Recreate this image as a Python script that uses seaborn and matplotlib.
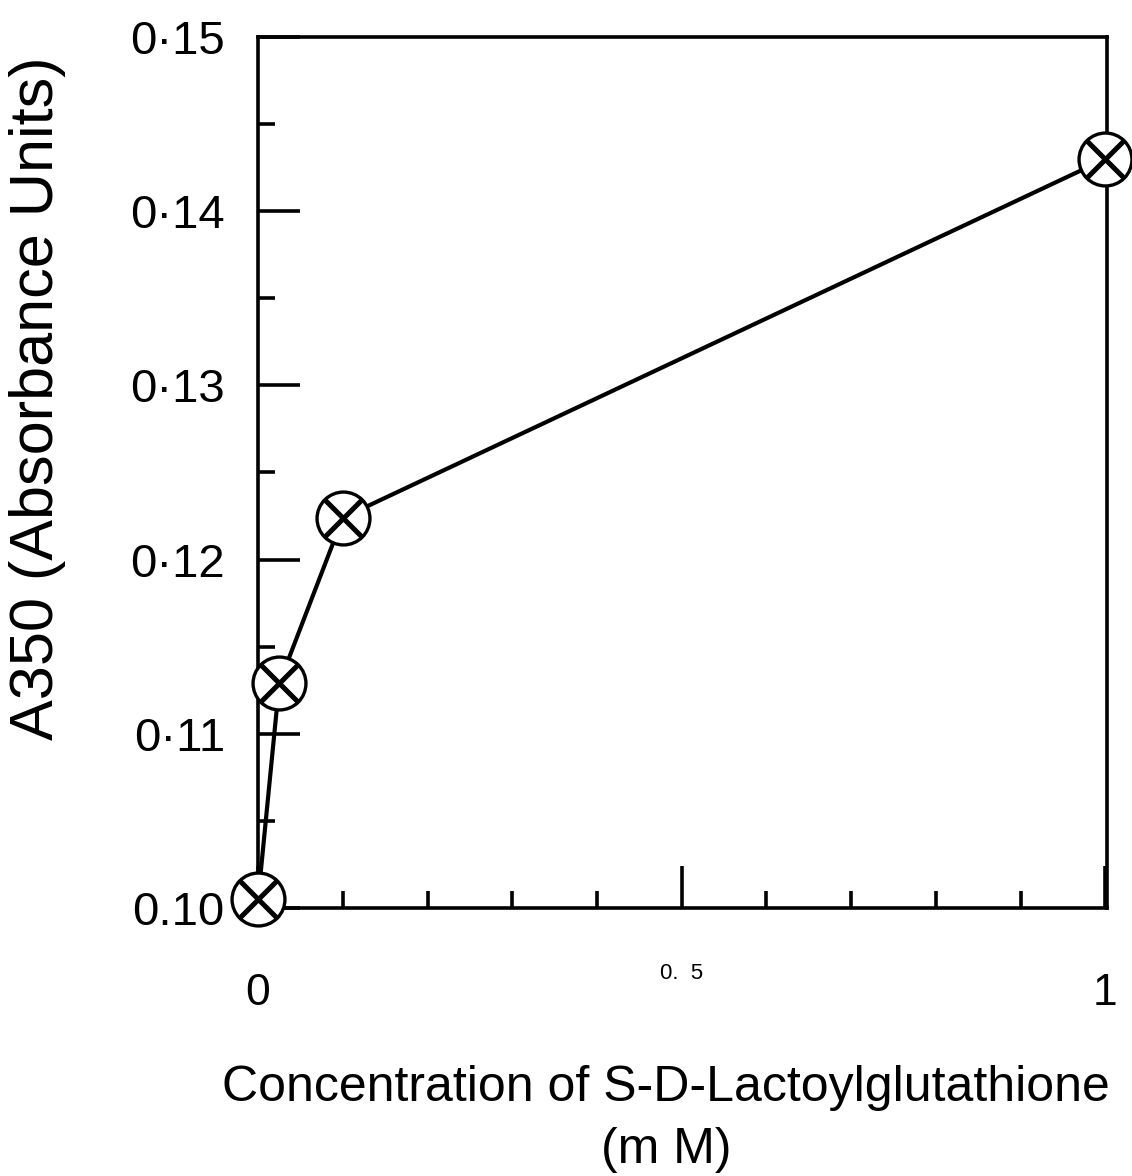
import matplotlib
matplotlib.use("Agg")
import matplotlib.pyplot as plt
import seaborn as sns
import pandas as pd

conc_mM = [0.0, 0.025, 0.1, 1.0]
a350 = [0.1005, 0.1129, 0.1224, 0.1430]
y_major = [0.10, 0.11, 0.12, 0.13, 0.14, 0.15]
y_labels = ["0.10", "0·11", "0·12", "0·13", "0·14", "0·15"]
y_minor = [0.105, 0.115, 0.125, 0.135, 0.145]
x_major = [0.0, 0.5, 1.0]
x_labels = ["0", "0.  5", "1"]
x_minor = [0.1, 0.2, 0.3, 0.4, 0.6, 0.7, 0.8, 0.9]

sns.set_theme(style="white")
plt.rcParams['font.family'] = ['Liberation Sans', 'DejaVu Sans']

df = pd.DataFrame({"conc": conc_mM, "a350": a350})

fig = plt.figure(figsize=(11.32, 11.76), dpi=100)
ax = fig.add_axes([0.228, 0.228, 0.750, 0.7405])

sns.lineplot(data=df, x="conc", y="a350", ax=ax, color="black", linewidth=3.0,
             clip_on=False, zorder=3)
sns.scatterplot(data=df, x="conc", y="a350", ax=ax, marker="o", s=1450,
                facecolor="white", edgecolor="black", linewidth=2.4,
                clip_on=False, zorder=4)
sns.scatterplot(data=df, x="conc", y="a350", ax=ax, marker="x", s=750,
                color="black", linewidth=3.6, clip_on=False, zorder=5)

ax.set_xlim(0.007, 1.002)
ax.set_ylim(0.10, 0.15)

ax.set_xticks(x_major)
ax.set_xticklabels(x_labels)
ax.set_xticks(x_minor, minor=True)
ax.set_yticks(y_major)
ax.set_yticklabels(y_labels)
ax.set_yticks(y_minor, minor=True)

ax.tick_params(axis="both", which="both", bottom=True, left=True, top=False, right=False)
ax.tick_params(axis="both", which="major", direction="in", length=30, width=2.6,
               color="black", labelcolor="black")
ax.tick_params(axis="both", which="minor", direction="in", length=12, width=2.6,
               color="black")
ax.tick_params(axis="y", which="major", labelsize=34, pad=24)
ax.tick_params(axis="x", which="major", labelsize=32, pad=47)

xt = ax.get_xticklabels()
xt[1].set_fontsize(16)
ax.xaxis.get_major_ticks()[1].set_pad(40)

for sp in ax.spines.values():
    sp.set_color("black")
    sp.set_linewidth(2.6)

ax.set_xlabel("")
ax.set_ylabel("")

fig.text(38 / 1132, 1 - 398 / 1176, "A350 (Absorbance Units)", rotation=90,
         ha="center", va="center", fontsize=44, color="black")
fig.text(666 / 1132, 1 - 1088 / 1176, "Concentration of S-D-Lactoylglutathione",
         ha="center", va="center", fontsize=36, color="black")
fig.text(666 / 1132, 1 - 1150 / 1176, "(m M)", ha="center", va="center",
         fontsize=36, color="black")

fig.savefig("out.png", dpi=100, facecolor="white")
